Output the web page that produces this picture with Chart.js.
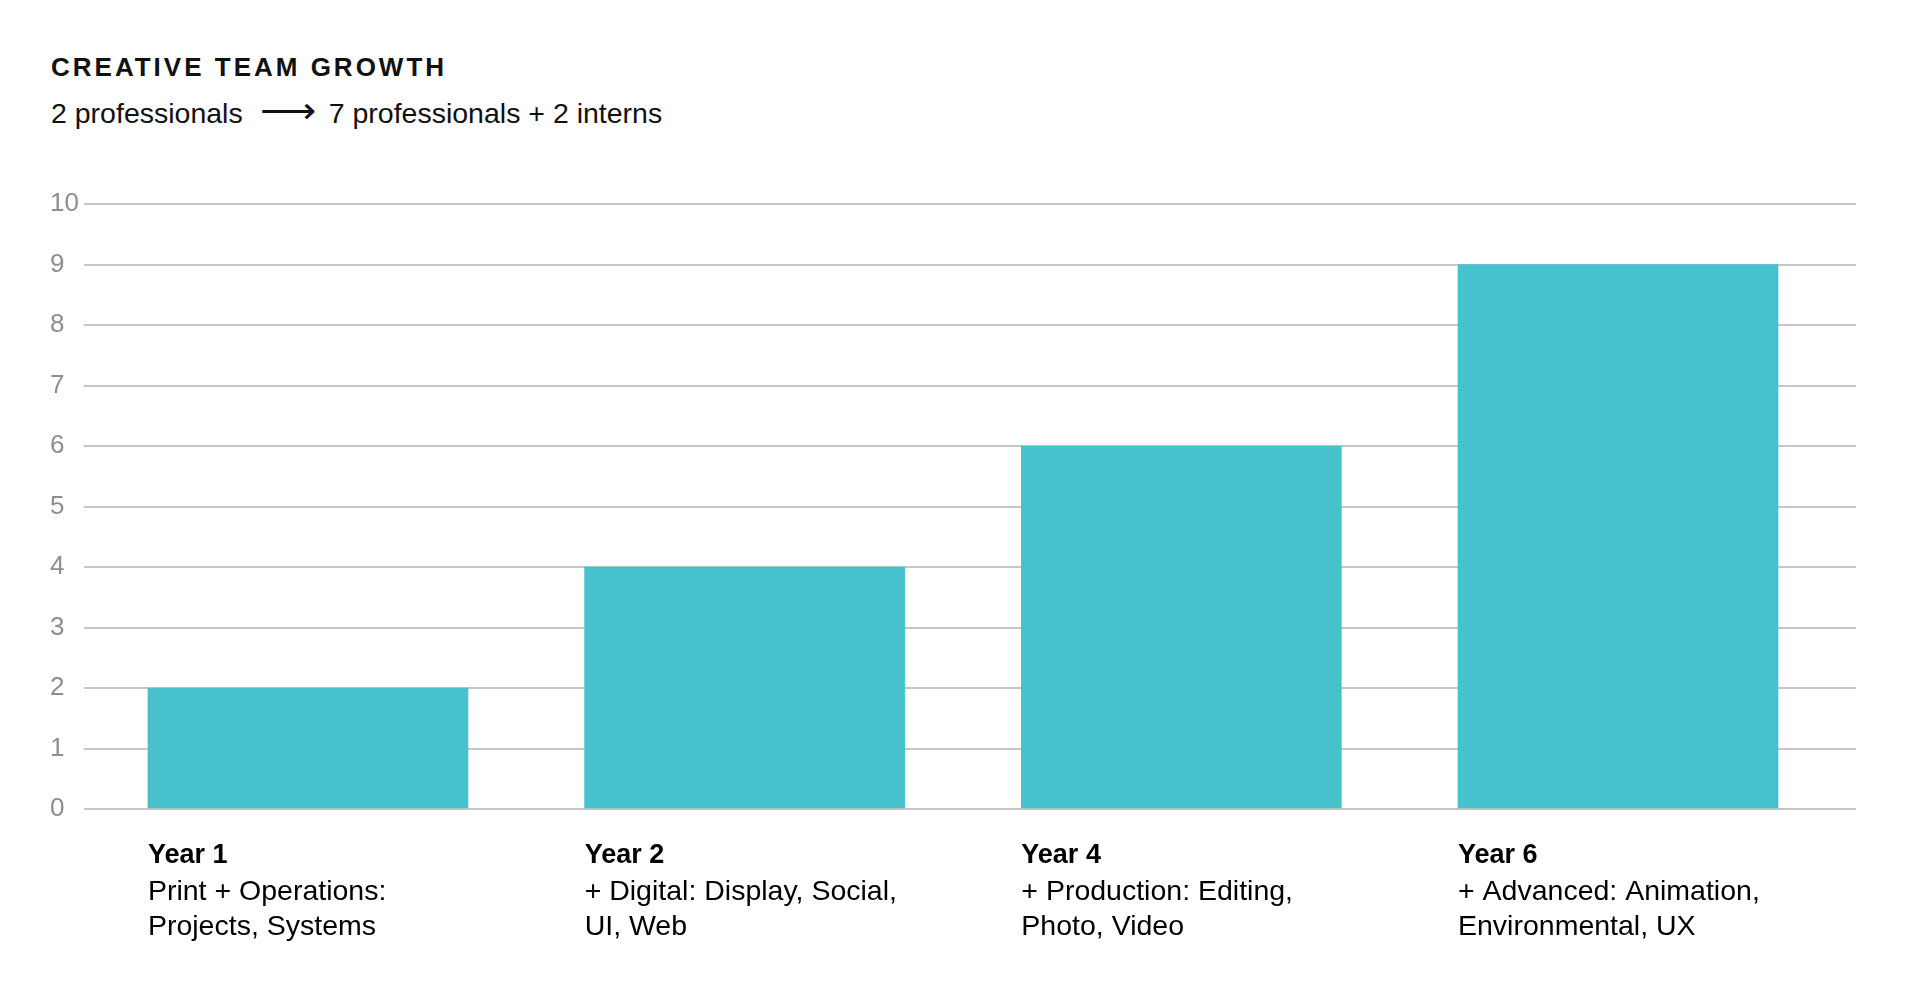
<!DOCTYPE html>
<html>
<head>
<meta charset="utf-8">
<title>Creative Team Growth</title>
<script src="https://cdn.jsdelivr.net/npm/chart.js@4.4.1/dist/chart.umd.min.js"></script>
<style>
    body { margin: 0; background: #fff; font-family: "Liberation Sans", Arial, sans-serif; }
    #wrap { position: relative; width: 1920px; height: 998px; }
    #title {
        position: absolute; left: 51px; top: 54px;
        font-size: 26px; line-height: 26px; font-weight: bold;
        letter-spacing: 3px; color: #111;
    }
    #subtitle {
        position: absolute; left: 51px; top: 99px; white-space: nowrap;
        font-size: 28.5px; line-height: 28.5px; color: #111;
    }
    #subtitle .arr { display: inline-block; width: 53px; margin: 0 16px 0 17px; line-height: 20px; }
    #subtitle .arr span {
        display: inline-block; font-family: "DejaVu Sans"; font-size: 36px;
        transform: scaleX(1.09); transform-origin: left center;
    }
    #chart { position: absolute; left: 0; top: 0; }
</style>
</head>
<body>
<div id="wrap">
    <div id="title">CREATIVE TEAM GROWTH</div>
    <div id="subtitle">2 professionals<span class="arr"><span>⟶</span></span>7 professionals + 2 interns</div>
    <canvas id="chart" width="1920" height="998"></canvas>
</div>
<script>
// data
const years = ["Year 1", "Year 2", "Year 4", "Year 6"];
const areas = [
    ["Print + Operations:", "Projects, Systems"],
    ["+ Digital: Display, Social,", "UI, Web"],
    ["+ Production: Editing,", "Photo, Video"],
    ["+ Advanced: Animation,", "Environmental, UX"]
];
const teamSize = [2, 4, 6, 9];
const yTicks = [0, 1, 2, 3, 4, 5, 6, 7, 8, 9, 10];

const BAR_W = 320;
const X_MIN = -0.513, X_MAX = 3.545;

// label ticks sit on the left edge of each bar so the text starts there
const leftEdgeTicks = (axis) => {
    const half = BAR_W / 2 / ((axis.right - axis.left) / (X_MAX - X_MIN));
    axis.ticks = years.map((_, i) => ({value: i - half}));
};

new Chart(document.getElementById("chart"), {
    type: 'bar',
    data: {
        datasets: [{
            data           : teamSize.map((v, i) => ({x: i, y: v})),
            backgroundColor: '#47c1cb',
            borderWidth    : 0,
            barThickness   : BAR_W,
            xAxisID        : 'x',
            yAxisID        : 'y'
        }]
    },
    options: {
        responsive: false,
        animation : false,
        layout    : {padding: {left: 50, right: 64, top: 204, bottom: 96}},
        plugins   : {legend: {display: false}, tooltip: {enabled: false}},
        scales    : {
            x : {
                type  : 'linear',
                min   : X_MIN,
                max   : X_MAX,
                offset: false,
                weight: 0,
                grid  : {display: false, drawTicks: false},
                border: {display: false},
                afterBuildTicks: leftEdgeTicks,
                ticks : {
                    align      : 'start',
                    autoSkip   : false,
                    maxRotation: 0,
                    padding    : 30.3,
                    color      : '#000',
                    font       : {family: 'Liberation Sans', size: 27, weight: 'bold'},
                    callback   : (v, i) => years[i]
                }
            },
            // second row of labels under the years; mirror keeps it from being clipped to its thin box
            x2: {
                type    : 'linear',
                position: 'bottom',
                min     : X_MIN,
                max     : X_MAX,
                offset  : false,
                weight  : 1,
                grid    : {display: false, drawTicks: false},
                border  : {display: false},
                afterBuildTicks: leftEdgeTicks,
                ticks   : {
                    align      : 'start',
                    autoSkip   : false,
                    maxRotation: 0,
                    mirror     : true,
                    padding    : -7.8,
                    color      : '#000',
                    font       : {family: 'Liberation Sans', size: 28.5, lineHeight: 1.245},
                    callback   : (v, i) => areas[i]
                }
            },
            y : {
                min   : 0,
                max   : 10,
                grid  : {color: '#c6c6c6', lineWidth: 2, drawTicks: false},
                border: {display: false},
                afterBuildTicks: (axis) => { axis.ticks = yTicks.map(v => ({value: v})); },
                ticks : {
                    crossAlign: 'far',
                    padding   : 2.5,
                    color     : '#8e8e8e',
                    font      : {family: 'Liberation Sans', size: 26}
                }
            }
        }
    }
});
</script>
</body>
</html>
